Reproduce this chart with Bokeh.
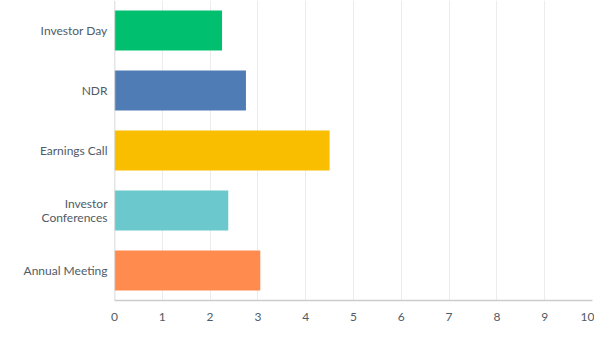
from bokeh.plotting import figure
from bokeh.models import Range1d, FactorRange, ColumnDataSource, FixedTicker, Span
from bokeh.core.properties import value
from bokeh.embed import file_html
from bokeh.resources import INLINE

categories = ["Investor Day", "NDR", "Earnings Call", "Investor Conferences", "Annual Meeting"]
labels = ["Investor Day", "NDR", "Earnings Call", "Investor\nConferences", "Annual Meeting"]
values = [2.25, 2.75, 4.5, 2.38, 3.05]
colors = ["#00bf6f", "#507cb6", "#f9be00", "#6bc8cd", "#ff8b4f"]
x_ticks = [0, 1, 2, 3, 4, 5, 6, 7, 8, 9, 10]

source = ColumnDataSource(dict(cat=categories, val=values, color=colors,
                               lab=labels, zero=[0] * len(categories)))

p = figure(width=594, height=350, output_backend="svg", toolbar_location=None,
           y_range=FactorRange(factors=list(reversed(categories)), range_padding=0),
           x_range=Range1d(0, 10),
           min_border_left=114, min_border_right=2, min_border_top=0, min_border_bottom=50)
p.outline_line_color = None
p.hbar(y="cat", right="val", left=0, height=0.667, color="color", source=source, line_color=None)

p.xaxis.ticker = FixedTicker(ticks=x_ticks)
p.xgrid.grid_line_color = "#ececec"
p.ygrid.grid_line_color = None

ax = p.xaxis[0]
ax.axis_line_color = "#cccccc"
ax.axis_line_width = 1.5
ax.major_tick_line_color = None
ax.minor_tick_line_color = None
ax.major_label_text_font = "Lato"
ax.major_label_text_font_size = "12px"
ax.major_label_text_color = "#505b66"
ax.major_label_standoff = 6

p.yaxis.visible = False
p.add_layout(Span(location=0, dimension="height", line_color="#cccccc", line_width=1.5))

p.text(x="zero", y="cat", text="lab", source=source, x_offset=-7, text_align="right",
       text_baseline="middle", text_font=value("Lato"), text_font_size="12px",
       text_color="#505b66", text_line_height=0.95, level="annotation")

open("out.html", "w").write(file_html(p, INLINE))
